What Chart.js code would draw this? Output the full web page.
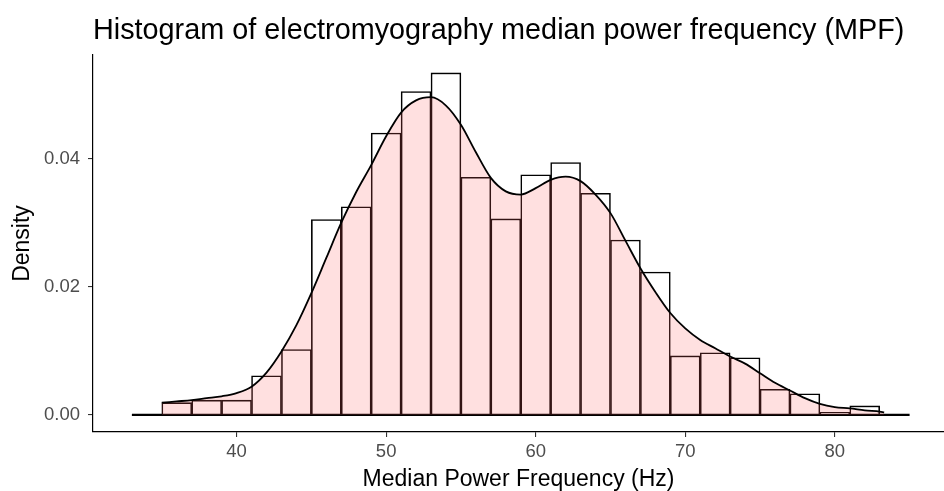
<!DOCTYPE html>
<html lang="en">
<head>
<meta charset="UTF-8">
<title>Histogram of electromyography median power frequency (MPF)</title>
<style>
  html, body { margin: 0; padding: 0; background: #fff; }
  #wrap { width: 944px; height: 491px; position: relative; }
</style>
</head>
<body>
<div id="wrap"><canvas id="hist"></canvas></div>
<script src="https://cdn.jsdelivr.net/npm/chart.js"></script>
<script>
// histogram: 2 Hz bins from 33 to 85, bin centres and density heights
const binCenters = [34, 36, 38, 40, 42, 44, 46, 48, 50, 52, 54, 56, 58, 60, 62, 64, 66, 68, 70, 72, 74, 76, 78, 80, 82, 84];
const binDensity = [0, 0.0019, 0.0023, 0.0023, 0.0061, 0.0102, 0.0305, 0.0325, 0.0440, 0.0505, 0.0534, 0.0371, 0.0306,
                    0.0375, 0.0394, 0.0346, 0.0273, 0.0223, 0.0092, 0.0097, 0.0089, 0.0040, 0.0033, 0.0004, 0.0014, 0];

// kernel density estimate
const densX = [35, 36, 37, 38, 39, 40, 41, 42, 43, 44, 45, 46, 47, 48, 49, 50, 51, 52, 53, 54, 55, 56, 57, 58, 59,
               60, 61, 62, 63, 64, 65, 66, 67, 68, 69, 70, 71, 72, 73, 74, 75, 76, 77, 78, 79, 80, 81, 82, 83, 83.3];
const densY = [0.0019, 0.0021, 0.0023, 0.0026, 0.0029, 0.0034, 0.0044, 0.0066, 0.0099, 0.0140, 0.0190, 0.0245, 0.0300,
               0.0348, 0.0390, 0.0435, 0.0472, 0.0491, 0.0496, 0.0483, 0.0453, 0.0410, 0.0370, 0.0349, 0.0344, 0.0354,
               0.0367, 0.0372, 0.0365, 0.0344, 0.0315, 0.0272, 0.0229, 0.0192, 0.0159, 0.0135, 0.0117, 0.0104, 0.0091,
               0.0080, 0.0065, 0.0050, 0.0038, 0.0026, 0.0017, 0.0012, 0.0010, 0.0007, 0.0005, 0.0004];

const xTicks = [40, 50, 60, 70, 80];
const yTicks = [0, 0.02, 0.04];

Chart.defaults.font.family = "'Liberation Sans', Arial, sans-serif";

const ctx = document.getElementById('hist').getContext('2d');
const chart = new Chart(ctx, {
    type: 'bar',
    data: {
        datasets: [{
            type: 'line',
            label: 'density',
            data: densX.map((x, i) => ({ x: x, y: densY[i] })),
            borderColor: '#000',
            borderWidth: 1.8,
            backgroundColor: 'rgba(255,102,102,0.2)',
            fill: 'origin',
            pointRadius: 0,
            cubicInterpolationMode: 'monotone',
            order: 0
        }, {
            type: 'line',
            label: 'baseline',
            data: [{ x: binCenters[0] - 1, y: 0 }, { x: binCenters[binCenters.length - 1] + 1, y: 0 }],
            borderColor: '#000',
            borderWidth: 2.4,
            pointRadius: 0,
            fill: false,
            order: 1
        }, {
            type: 'bar',
            label: 'count',
            data: binCenters.map((x, i) => ({ x: x, y: binDensity[i] })),
            backgroundColor: '#fff',
            borderColor: '#000',
            borderWidth: 1.6,
            barPercentage: 1,
            categoryPercentage: 1,
            order: 2
        }]
    },
    options: {
        responsive: true,
        maintainAspectRatio: false,
        animation: false,
        layout: { padding: { left: 0, right: 0, top: 0, bottom: 0 } },
        plugins: {
            legend: { display: false },
            tooltip: { enabled: false },
            title: {
                display: true,
                text: 'Histogram of electromyography median power frequency (MPF)',
                align: 'start',
                fullSize: false,
                color: '#000',
                font: { size: 28.8, weight: 'normal' },
                padding: { top: 14, bottom: 6.4 }
            }
        },
        scales: {
            x: {
                type: 'linear',
                min: 30.4,
                max: 87.3,
                offset: false,
                afterBuildTicks: s => { s.ticks = xTicks.map(v => ({ value: v })); },
                afterFit: s => { s.height = 59; },
                ticks: { color: '#4d4d4d', font: { size: 18.5 }, padding: 4, callback: v => String(v) },
                grid: { display: true, drawOnChartArea: false, offset: false, tickLength: 5, color: '#333', lineWidth: 1.1 },
                border: { display: true, color: '#000', width: 1.2 },
                title: { display: true, text: 'Median Power Frequency (Hz)', color: '#000', font: { size: 23, lineHeight: 1 }, padding: { top: 0, bottom: 0 } }
            },
            y: {
                min: -0.00268,
                max: 0.0562,
                afterBuildTicks: s => { s.ticks = yTicks.map(v => ({ value: v })); },
                afterFit: s => { s.width = 93; },
                ticks: { color: '#4d4d4d', font: { size: 18.5 }, padding: 8, callback: v => v.toFixed(2) },
                grid: { display: true, drawOnChartArea: false, tickLength: 5, color: '#333', lineWidth: 1.1 },
                border: { display: true, color: '#000', width: 1.2 },
                title: { display: true, text: 'Density', color: '#000', font: { size: 23 }, padding: { top: 9, bottom: 0 } }
            }
        }
    }
});
</script>
</body>
</html>
